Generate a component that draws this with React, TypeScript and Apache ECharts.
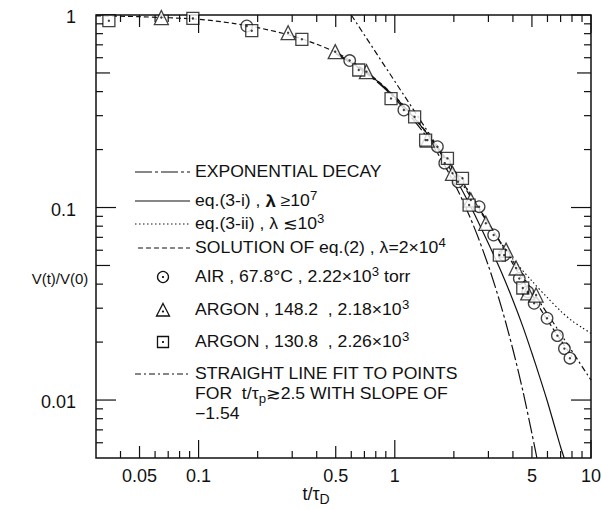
import React, { useEffect, useRef } from 'react';
import * as echarts from 'echarts';

const INK = '#111';
const X_MIN = 0.03;
const X_MAX = 10;
const Y_MIN = 0.005;
const Y_MAX = 1;

// measured points
const airT = [0.176, 0.589, 1.112, 1.649, 1.797, 2.101, 2.69, 3.19, 3.61, 4.31, 4.76, 5.13, 5.97, 6.74, 7.32, 7.81];
const airV = [0.877, 0.58, 0.321, 0.207, 0.17, 0.136, 0.101, 0.072, 0.0566, 0.0428, 0.0365, 0.0318, 0.0266, 0.0216, 0.0185, 0.0165];
const ar148T = [0.0646, 0.286, 0.497, 0.717, 1.466, 1.968, 2.44, 2.91, 3.69, 4.15, 4.76, 5.25];
const ar148V = [0.97, 0.809, 0.645, 0.508, 0.224, 0.1506, 0.1094, 0.0828, 0.0601, 0.0485, 0.036, 0.0351];
const ar130T = [0.0349, 0.0935, 0.1866, 0.336, 0.655, 0.957, 1.262, 1.436, 1.855, 2.213, 2.392, 3.41, 4.49];
const ar130V = [0.934, 0.96, 0.829, 0.748, 0.518, 0.368, 0.296, 0.224, 0.18, 0.1418, 0.103, 0.0566, 0.0382];

// curves
const expT = [0.5, 0.75, 1.0, 1.5, 2.0, 2.5, 3.0, 3.5, 4.0, 4.5, 5.0, 5.3];
const expV = [0.63, 0.48, 0.368, 0.223, 0.135, 0.082, 0.0498, 0.0302, 0.0183, 0.0111, 0.0067, 0.005];
const eq3iT = [0.5, 0.75, 1.0, 1.3, 1.6, 2.0, 2.5, 3.0, 3.5, 4.0, 4.5, 5.0, 5.5, 6.0, 6.5, 7.0, 7.3];
const eq3iV = [0.635, 0.485, 0.375, 0.28, 0.213, 0.147, 0.096, 0.065, 0.046, 0.033, 0.024, 0.0175, 0.013, 0.0098, 0.0074, 0.0057, 0.005];
const eq3iiT = [1.0, 1.3, 1.7, 2.0, 2.5, 3.0, 3.5, 4.0, 5.0, 6.0, 7.0, 8.0, 9.0, 10];
const eq3iiV = [0.375, 0.28, 0.195, 0.158, 0.112, 0.082, 0.065, 0.054, 0.0415, 0.034, 0.029, 0.0258, 0.0238, 0.0222];
const solT = [0.03, 0.05, 0.1, 0.15, 0.2, 0.3, 0.4, 0.5, 0.6, 0.75, 1.0, 1.3, 1.6, 2.0, 2.5, 3.0, 3.5, 4.0, 5.0, 6.0, 7.0, 8.0];
const solV = [0.99, 0.98, 0.95, 0.905, 0.86, 0.78, 0.705, 0.64, 0.575, 0.49, 0.378, 0.283, 0.215, 0.157, 0.112, 0.083, 0.064, 0.051, 0.035, 0.026, 0.0205, 0.0168];
const fitT = [0.6, 10];
const fitV = [1.0, 0.0127];

// ticks: 0 = decade, 1 = half decade, 2 = minor
const xTickVals = [0.04, 0.05, 0.06, 0.07, 0.08, 0.09, 0.1, 0.2, 0.3, 0.4, 0.5, 0.6, 0.7, 0.8, 0.9, 1, 2, 3, 4, 5, 6, 7, 8, 9, 10];
const xTickKind = [2, 1, 2, 2, 2, 2, 0, 2, 2, 2, 1, 2, 2, 2, 2, 0, 2, 2, 2, 1, 2, 2, 2, 2, 0];
const yTickVals = [0.006, 0.007, 0.008, 0.009, 0.01, 0.02, 0.03, 0.04, 0.05, 0.06, 0.07, 0.08, 0.09, 0.1, 0.2, 0.3, 0.4, 0.5, 0.6, 0.7, 0.8, 0.9, 1];
const yTickKind = [2, 2, 2, 2, 0, 2, 2, 2, 1, 2, 2, 2, 2, 0, 2, 2, 2, 1, 2, 2, 2, 2, 0];
const xLabelVals = [0.05, 0.1, 0.5, 1, 5, 10];
const xLabelText = ['0.05', '0.1', '0.5', '1', '5', '10'];
const yLabelVals = [1, 0.1, 0.01];
const yLabelText = ['1', '0.1', '0.01'];

const H_TICK = [18, 12, 7];
const V_TICK = [20, 14, 7];

const pairs = (xs: number[], ys: number[]) => xs.map((x, i) => [x, ys[i]]);

const TXT_FONT = '"Liberation Sans", Arial, sans-serif';

export default function App() {
  const ref = useRef<HTMLDivElement>(null);
  useEffect(() => {
    if (!ref.current) return;
    const chart = echarts.init(ref.current, undefined, { renderer: 'svg' });
    const lineBase = { type: 'line', showSymbol: false, silent: true, smooth: 0.3, z: 2 };
    const markerStyle = { color: '#fff', borderColor: INK, borderWidth: 1.3 };
    const allPts = [...pairs(airT, airV), ...pairs(ar148T, ar148V), ...pairs(ar130T, ar130V)];

    const rich = {
      sup: { fontSize: 12, lineHeight: 12, verticalAlign: 'top', fontFamily: TXT_FONT, fill: INK },
      sub: { fontSize: 12, lineHeight: 12, verticalAlign: 'bottom', fontFamily: TXT_FONT, fill: INK },
      b: { fontSize: 17, fontWeight: 'bold', lineHeight: 22, fontFamily: TXT_FONT, fill: INK },
    };
    const legText = (y: number, text: string) => ({
      type: 'text', x: 195, y, scaleX: 1.1,
      style: {
        text, fontSize: 16, fontFamily: TXT_FONT, fill: INK, lineHeight: 22,
        align: 'left', verticalAlign: 'middle', textAlign: 'left', textVerticalAlign: 'middle', rich,
      },
    });
    const legLine = (y: number, dash: any, x1 = 135) => ({
      type: 'line', shape: { x1, y1: y, x2: 190, y2: y },
      style: { stroke: INK, lineWidth: 1.2, lineDash: dash },
    });

    chart.setOption({
      animation: false,
      backgroundColor: '#fff',
      grid: { left: 96, right: 10, top: 15, bottom: 52, show: true, borderColor: INK, borderWidth: 1.5, backgroundColor: 'transparent' },
      xAxis: { type: 'log', logBase: 10, min: X_MIN, max: X_MAX, axisLine: { show: false }, axisTick: { show: false }, axisLabel: { show: false }, splitLine: { show: false } },
      yAxis: { type: 'log', logBase: 10, min: Y_MIN, max: Y_MAX, axisLine: { show: false }, axisTick: { show: false }, axisLabel: { show: false }, splitLine: { show: false } },
      series: [
        { ...lineBase, name: 'EXPONENTIAL DECAY', data: pairs(expT, expV), lineStyle: { color: INK, width: 1.2, type: [16, 3, 3, 3] } },
        { ...lineBase, name: 'eq.(3-i)', data: pairs(eq3iT, eq3iV), lineStyle: { color: INK, width: 1.2, type: 'solid' } },
        { ...lineBase, name: 'eq.(3-ii)', data: pairs(eq3iiT, eq3iiV), lineStyle: { color: INK, width: 1.1, type: [1.5, 2.5] } },
        { ...lineBase, name: 'SOLUTION', data: pairs(solT, solV), lineStyle: { color: INK, width: 1.2, type: [5, 3] } },
        { ...lineBase, name: 'FIT', smooth: false, data: pairs(fitT, fitV), lineStyle: { color: INK, width: 1.2, type: [6, 3, 2, 3] } },
        { type: 'scatter', name: 'AIR', data: pairs(airT, airV), symbol: 'circle', symbolSize: 11.5, itemStyle: markerStyle, z: 3, silent: true },
        { type: 'scatter', name: 'ARGON 148.2', data: pairs(ar148T, ar148V), symbol: 'triangle', symbolSize: 14, itemStyle: markerStyle, z: 3, silent: true },
        { type: 'scatter', name: 'ARGON 130.8', data: pairs(ar130T, ar130V), symbol: 'rect', symbolSize: 12, itemStyle: markerStyle, z: 3, silent: true },
        { type: 'scatter', name: 'dots', data: allPts, symbol: 'circle', symbolSize: 2.4, itemStyle: { color: INK }, z: 4, silent: true },
        {
          type: 'custom', name: 'xticks', coordinateSystem: 'cartesian2d', silent: true, clip: false, z: 5,
          data: xTickVals.map((v, i) => [v, Y_MIN, xTickKind[i]]), encode: { x: 0, y: 1 },
          renderItem: (params: any, api: any) => {
            const v = api.value(0); const k = api.value(2);
            const b = api.coord([v, Y_MIN]); const t = api.coord([v, Y_MAX]);
            const L = H_TICK[k];
            const st = { stroke: INK, lineWidth: 1.2 };
            return { type: 'group', children: [
              { type: 'line', shape: { x1: b[0], y1: b[1], x2: b[0], y2: b[1] - L }, style: st },
              { type: 'line', shape: { x1: t[0], y1: t[1], x2: t[0], y2: t[1] + L }, style: st },
            ] };
          },
        },
        {
          type: 'custom', name: 'yticks', coordinateSystem: 'cartesian2d', silent: true, clip: false, z: 5,
          data: yTickVals.map((v, i) => [X_MIN, v, yTickKind[i]]), encode: { x: 0, y: 1 },
          renderItem: (params: any, api: any) => {
            const v = api.value(1); const k = api.value(2);
            const l = api.coord([X_MIN, v]); const r = api.coord([X_MAX, v]);
            const L = V_TICK[k];
            const st = { stroke: INK, lineWidth: 1.2 };
            return { type: 'group', children: [
              { type: 'line', shape: { x1: l[0], y1: l[1], x2: l[0] + L, y2: l[1] }, style: st },
              { type: 'line', shape: { x1: r[0], y1: r[1], x2: r[0] - L, y2: r[1] }, style: st },
            ] };
          },
        },
        {
          type: 'custom', name: 'xlabels', coordinateSystem: 'cartesian2d', silent: true, clip: false, z: 5,
          data: xLabelVals.map((v) => [v, Y_MIN]), encode: { x: 0, y: 1 },
          renderItem: (params: any, api: any) => {
            const p = api.coord([api.value(0), Y_MIN]);
            return { type: 'text', x: p[0], y: p[1] + 18, style: { text: xLabelText[params.dataIndex], fontSize: 18, fontFamily: TXT_FONT, fill: INK, align: 'center', verticalAlign: 'middle', textAlign: 'center', textVerticalAlign: 'middle' } };
          },
        },
        {
          type: 'custom', name: 'ylabels', coordinateSystem: 'cartesian2d', silent: true, clip: false, z: 5,
          data: yLabelVals.map((v) => [X_MIN, v]), encode: { x: 0, y: 1 },
          renderItem: (params: any, api: any) => {
            const p = api.coord([X_MIN, api.value(1)]);
            return { type: 'text', x: p[0] - 20, y: p[1] + 2, style: { text: yLabelText[params.dataIndex], fontSize: 18, fontFamily: TXT_FONT, fill: INK, align: 'right', verticalAlign: 'middle', textAlign: 'right', textVerticalAlign: 'middle' } };
          },
        },
      ],
      graphic: [
        { type: 'text', x: 60, y: 278, style: { text: 'V(t)/V(0)', fontSize: 15, fontFamily: TXT_FONT, fill: INK, align: 'center', verticalAlign: 'middle', textAlign: 'center', textVerticalAlign: 'middle' } },
        { type: 'text', x: 316, y: 494, style: { text: 't/τ{sub|D}', fontSize: 18, lineHeight: 24, fontFamily: TXT_FONT, fill: INK, align: 'center', verticalAlign: 'middle', textAlign: 'center', textVerticalAlign: 'middle', rich: { sub: { fontSize: 14, lineHeight: 14, verticalAlign: 'bottom', fontFamily: TXT_FONT, fill: INK } } } },
        legLine(172, [17, 3, 3, 3]),
        legText(172, 'EXPONENTIAL DECAY'),
        legLine(201, []),
        legText(201, 'eq.(3-i) , {b|λ} ≥10{sup|7}'),
        legLine(224, [1.5, 2.5]),
        legText(224, 'eq.(3-ii) , λ ≲10{sup|3}'),
        legLine(248, [5, 3], 138),
        legText(248, 'SOLUTION OF eq.(2) , λ=2×10{sup|4}'),
        { type: 'circle', shape: { cx: 163, cy: 277, r: 5.5 }, style: { fill: '#fff', stroke: INK, lineWidth: 1.3 } },
        { type: 'circle', shape: { cx: 163, cy: 277, r: 1.1 }, style: { fill: INK } },
        legText(277, 'AIR , 67.8°C , 2.22×10{sup|3} torr'),
        { type: 'polygon', shape: { points: [[163, 303.5], [169.5, 316], [156.5, 316]] }, style: { fill: '#fff', stroke: INK, lineWidth: 1.3 } },
        { type: 'circle', shape: { cx: 163, cy: 311.5, r: 1.1 }, style: { fill: INK } },
        legText(310, 'ARGON , 148.2  , 2.18×10{sup|3}'),
        { type: 'rect', shape: { x: 157.5, y: 336.5, width: 11, height: 11 }, style: { fill: '#fff', stroke: INK, lineWidth: 1.3 } },
        { type: 'circle', shape: { cx: 163, cy: 342, r: 1.1 }, style: { fill: INK } },
        legText(342, 'ARGON , 130.8  , 2.26×10{sup|3}'),
        legLine(374, [6, 3, 2, 3]),
        legText(374, 'STRAIGHT LINE FIT TO POINTS'),
        legText(394, 'FOR  t/τ{sub|p}≳2.5 WITH SLOPE OF'),
        legText(414, '−1.54'),
      ],
    });
    return () => chart.dispose();
  }, []);
  return <div ref={ref} style={{ position: 'fixed', left: 0, top: 0, width: 601, height: 510, background: '#fff' }} />;
}
